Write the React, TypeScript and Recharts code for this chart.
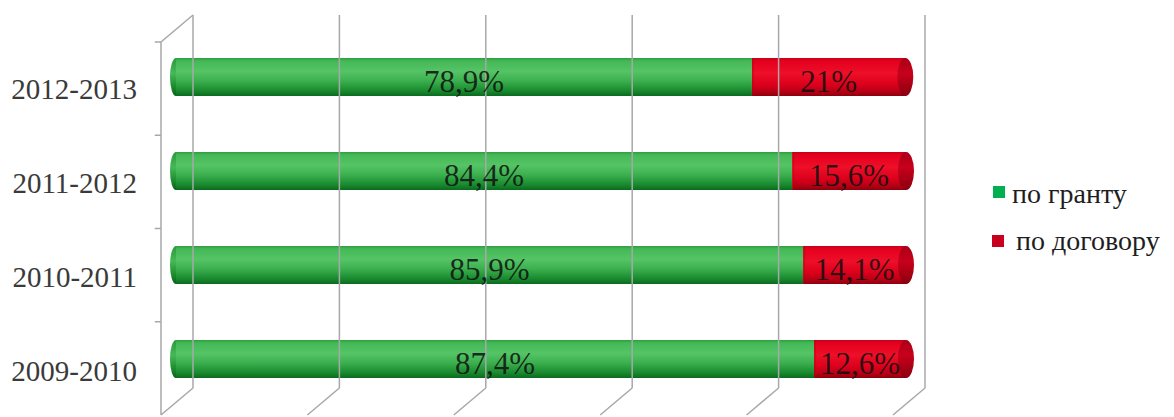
import React from 'react';
import { BarChart, Bar, XAxis, YAxis, ReferenceLine, LabelList } from 'recharts';

const categories = ['2012-2013', '2011-2012', '2010-2011', '2009-2010'];
const grantValues = [78.9, 84.4, 85.9, 87.4];
const contractValues = [21, 15.6, 14.1, 12.6];
const seriesNames = ['по гранту', 'по договору'];
const legendColors = ['#00b050', '#c8001e'];
const gridTicks = [0, 20, 40, 60, 80, 100];
const frontTicks = [1, 2, 3, 4];

const data = categories.map((name, i) => ({ name, grant: grantValues[i], contract: contractValues[i] }));

const FONT = '"Liberation Serif", "DejaVu Serif", "Times New Roman", serif';
const GRID = '#a8a8a8';
// depth offsets of the 3D frame (in wall-axis units)
const DX = -4.372;
const DY = -0.2895;

const fmt = (v: number) => String(v).replace('.', ',') + '%';

const GrantShape = (props: any) => {
  const { x, y, width, height } = props;
  const ry = height / 2;
  return (
    <g>
      <ellipse cx={x} cy={y + ry} rx={6} ry={ry} fill="url(#gGreenEnd)" />
      <rect x={x} y={y} width={width} height={height} fill="url(#gGreen)" />
    </g>
  );
};

const ContractShape = (props: any) => {
  const { x, y, width, height } = props;
  const ry = height / 2;
  return (
    <g>
      <rect x={x} y={y} width={width} height={height} fill="url(#gRed)" />
      <rect x={x} y={y} width={2} height={height} fill="#a80014" opacity={0.35} />
      <ellipse cx={x + width} cy={y + ry} rx={8} ry={ry} fill="url(#gRedEnd)" />
    </g>
  );
};

const BarLabel = (props: any) => {
  const { x, y, width, height, value } = props;
  return (
    <text
      x={x + width / 2}
      y={y + height / 2 + 4}
      textAnchor="middle"
      dominantBaseline="central"
      fontFamily="Liberation Serif, DejaVu Serif, serif"
      style={{ fontFamily: FONT }}
      fontSize={31}
      fill="#101010"
      fillOpacity={0.85}
    >
      {fmt(value)}
    </text>
  );
};

const CatTick = (props: any) => {
  const { x, y, payload } = props;
  return (
    <text x={x} y={y + 12} textAnchor="end" dominantBaseline="central" style={{ fontFamily: FONT }} fontSize={29} fill="#3a3a3a">
      {payload.value}
    </text>
  );
};

const LegendBox = () => (
  <div style={{ position: 'absolute', left: 990, top: 170, width: 184, height: 100, fontFamily: FONT, fontSize: 28, lineHeight: '28px', color: '#1e1e1e' }}>
    {seriesNames.map((n, i) => (
      <React.Fragment key={n}>
        <div style={{ position: 'absolute', left: 2 + (i === 0 ? 1 : 0), top: 16 + i * 49, width: 12, height: 12, background: legendColors[i] }} />
        <div style={{ position: 'absolute', left: 22 + i * 4, top: 10 + i * 47, whiteSpace: 'nowrap' }}>{n}</div>
      </React.Fragment>
    ))}
  </div>
);

const wallKey = () => 0;

export default function App() {
  return (
    <div style={{ position: 'absolute', left: 0, top: 0, width: 1174, height: 417, background: '#fff', overflow: 'hidden' }}>
      <BarChart
        width={1174}
        height={417}
        data={data}
        layout="vertical"
        margin={{ top: 15, right: 249, bottom: 0, left: 11 }}
        barSize={38}
      >
        <defs>
          <linearGradient id="gGreen" x1="0" y1="0" x2="0" y2="1">
            <stop offset="0" stopColor="#2e9e40" />
            <stop offset="0.08" stopColor="#44b856" />
            <stop offset="0.35" stopColor="#55c466" />
            <stop offset="0.6" stopColor="#3cb04f" />
            <stop offset="0.85" stopColor="#1a8c30" />
            <stop offset="1" stopColor="#0b6a1f" />
          </linearGradient>
          <linearGradient id="gGreenEnd" x1="0" y1="0" x2="0" y2="1">
            <stop offset="0" stopColor="#2a9a3c" />
            <stop offset="0.4" stopColor="#45b857" />
            <stop offset="0.8" stopColor="#168628" />
            <stop offset="1" stopColor="#0a601c" />
          </linearGradient>
          <linearGradient id="gRed" x1="0" y1="0" x2="0" y2="1">
            <stop offset="0" stopColor="#c4001a" />
            <stop offset="0.08" stopColor="#e4001e" />
            <stop offset="0.4" stopColor="#ee0f28" />
            <stop offset="0.7" stopColor="#dc001c" />
            <stop offset="0.9" stopColor="#b20014" />
            <stop offset="1" stopColor="#8c000e" />
          </linearGradient>
          <linearGradient id="gRedEnd" x1="0" y1="0" x2="0" y2="1">
            <stop offset="0" stopColor="#a80016" />
            <stop offset="0.4" stopColor="#c8001c" />
            <stop offset="1" stopColor="#8a000e" />
          </linearGradient>
        </defs>
        <XAxis type="number" domain={[0, 100]} hide padding={{ left: 15, right: 19 }} />
        <XAxis xAxisId="w" type="number" domain={[0, 100]} hide allowDataOverflow padding={{ left: 32, right: 0 }} />
        <YAxis
          type="category"
          dataKey="name"
          width={150}
          axisLine={false}
          tickLine={false}
          tickSize={0}
          tickMargin={24}
          padding={{ top: 15, bottom: 11 }}
          tick={<CatTick />}
          interval={0}
        />
        <YAxis yAxisId="w" type="number" dataKey={wallKey} domain={[0, 4]} hide reversed allowDataOverflow padding={{ top: 0, bottom: 29 }} />

        {gridTicks.map((t) => (
          <ReferenceLine
            key={'v' + t}
            xAxisId="w"
            yAxisId="w"
            ifOverflow="visible"
            stroke={GRID}
            strokeWidth={1.5}
            segment={[{ x: t, y: 4 }, { x: t, y: 0 }]}
          />
        ))}
        {gridTicks.map((t) => (
          <ReferenceLine
            key={'f' + t}
            xAxisId="w"
            yAxisId="w"
            ifOverflow="visible"
            stroke={GRID}
            strokeWidth={1.5}
            segment={[{ x: t, y: 0 }, { x: t + DX, y: DY }]}
          />
        ))}
        <ReferenceLine xAxisId="w" yAxisId="w" ifOverflow="visible" stroke={GRID} strokeWidth={1.5}
          segment={[{ x: 0, y: 4 }, { x: DX, y: 4 + DY }]} />
        <ReferenceLine xAxisId="w" yAxisId="w" ifOverflow="visible" stroke={GRID} strokeWidth={1.5}
          segment={[{ x: DX, y: 4 + DY }, { x: DX, y: DY }]} />
        {frontTicks.map((k) => (
          <ReferenceLine
            key={'t' + k}
            xAxisId="w"
            yAxisId="w"
            ifOverflow="visible"
            stroke={GRID}
            strokeWidth={1.5}
            segment={[{ x: DX, y: DY + k }, { x: DX - 0.85, y: DY + k }]}
          />
        ))}

        <Bar dataKey="grant" stackId="s" name={seriesNames[0]} fill={legendColors[0]} shape={<GrantShape />} isAnimationActive={false}>
          <LabelList dataKey="grant" content={<BarLabel />} />
        </Bar>
        <Bar dataKey="contract" stackId="s" name={seriesNames[1]} fill={legendColors[1]} shape={<ContractShape />} isAnimationActive={false}>
          <LabelList dataKey="contract" content={<BarLabel />} />
        </Bar>
      </BarChart>
      <LegendBox />
    </div>
  );
}
